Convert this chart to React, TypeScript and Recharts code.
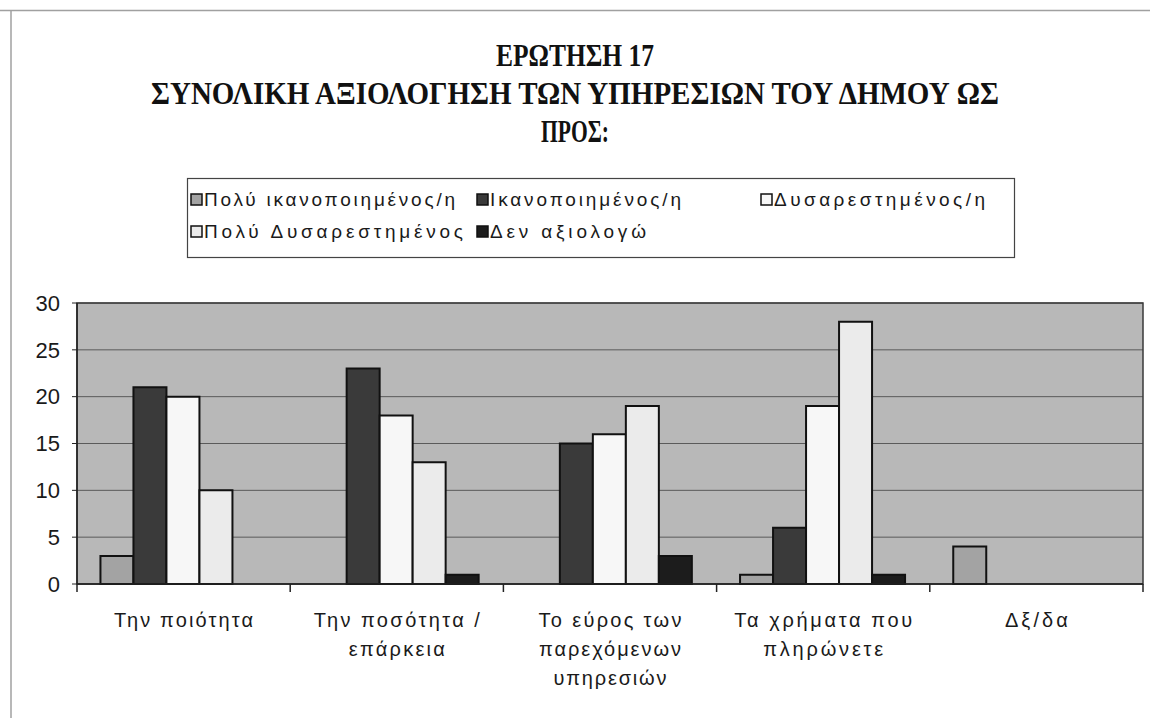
import React from 'react';
import { BarChart, Bar, XAxis, YAxis, CartesianGrid, ReferenceArea } from 'recharts';

const categories = [
  'Την ποιότητα',
  'Την ποσότητα / επάρκεια',
  'Το εύρος των παρεχόμενων υπηρεσιών',
  'Τα χρήματα που πληρώνετε',
  'Δξ/δα',
];
const categoryLines = [
  ['Την ποιότητα'],
  ['Την ποσότητα /', 'επάρκεια'],
  ['Το εύρος των', 'παρεχόμενων', 'υπηρεσιών'],
  ['Τα χρήματα που', 'πληρώνετε'],
  ['Δξ/δα'],
];
const seriesNames = [
  'Πολύ ικανοποιημένος/η',
  'Ικανοποιημένος/η',
  'Δυσαρεστημένος/η',
  'Πολύ Δυσαρεστημένος',
  'Δεν αξιολογώ',
];
const veryPleased = [3, 0, 0, 1, 4];
const pleased = [21, 23, 15, 6, 0];
const displeased = [20, 18, 16, 19, 0];
const veryDispleased = [10, 13, 19, 28, 0];
const noRating = [0, 1, 3, 1, 0];
const yTicks = [0, 5, 10, 15, 20, 25, 30];
const titleLines = [
  'ΕΡΩΤΗΣΗ 17',
  'ΣΥΝΟΛΙΚΗ ΑΞΙΟΛΟΓΗΣΗ ΤΩΝ ΥΠΗΡΕΣΙΩΝ ΤΟΥ ΔΗΜΟΥ ΩΣ',
  'ΠΡΟΣ:',
];

// styles
const seriesColors = ['#a3a3a3', '#3a3a3a', '#f7f7f7', '#ebebeb', '#1c1c1c'];
const sansFont = '"Liberation Sans", Arial, sans-serif';
const serifFont = '"Liberation Serif", "Times New Roman", serif';
const labelWidths: Record<string, number> = {
  'Την ποιότητα': 139,
  'Την ποσότητα /': 166,
  'επάρκεια': 96,
  'Το εύρος των': 143,
  'παρεχόμενων': 142,
  'υπηρεσιών': 113,
  'Τα χρήματα που': 178,
  'πληρώνετε': 120,
  'Δξ/δα': 63,
};
const legendWidths = [251, 191, 211, 259, 156];
const legendPos = [
  [191, 206],
  [477, 206],
  [761, 206],
  [191, 238],
  [477, 238],
];
const titleLayout = [
  { y: 66, w: 158 },
  { y: 104, w: 848 },
  { y: 142, w: 68 },
];

const seriesValues = [veryPleased, pleased, displeased, veryDispleased, noRating];
const seriesKeys = ['s0', 's1', 's2', 's3', 's4'];
const data = categories.map((c, i) => {
  const row: Record<string, any> = { name: c };
  seriesKeys.forEach((k, j) => {
    row[k] = seriesValues[j][i];
  });
  return row;
});

const XTick = (props: any) => {
  const { x, y, payload, index } = props;
  const half = payload && typeof payload.offset === 'number' && payload.offset > 0 ? payload.offset : 106.6;
  const lines = categoryLines[index] ?? [String(payload?.value ?? '')];
  const last = index === categories.length - 1;
  return (
    <g>
      <line x1={x - half} x2={x - half} y1={y} y2={y + 8} stroke="#222" strokeWidth={1.5} />
      {last && <line x1={x + half} x2={x + half} y1={y} y2={y + 8} stroke="#222" strokeWidth={1.5} />}
      {lines.map((ln: string, k: number) => (
        <text
          key={k}
          x={x}
          y={y + 43 + k * 29}
          textAnchor="middle"
          fontFamily={sansFont}
          fontSize={20}
          fill="#1a1a1a"
          textLength={labelWidths[ln]}
          lengthAdjust="spacing"
        >
          {ln}
        </text>
      ))}
    </g>
  );
};

export default function App() {
  return (
    <div style={{ position: 'absolute', left: 0, top: 0, width: 1150, height: 718, background: '#fff' }}>
      <BarChart
        width={1150}
        height={718}
        data={data}
        margin={{ top: 303, right: 7, bottom: 0, left: 17 }}
        barCategoryGap="11%"
        barGap={0}
      >
        <CartesianGrid vertical={false} stroke="#5a5a5a" fill="#b8b8b8" fillOpacity={1} />
        <XAxis
          dataKey="name"
          height={134}
          interval={0}
          tickLine={false}
          tickSize={0}
          tickMargin={0}
          axisLine={{ stroke: '#222', strokeWidth: 1.5 }}
          tick={<XTick />}
        />
        <YAxis
          width={60}
          domain={[0, 30]}
          ticks={yTicks}
          interval={0}
          tickSize={5}
          tickMargin={12}
          axisLine={{ stroke: '#222', strokeWidth: 1.5 }}
          tickLine={{ stroke: '#222' }}
          tick={{ fontSize: 22, fontFamily: sansFont, fill: '#1a1a1a' }}
        />
        <ReferenceArea y1={0} y2={30} fill="none" fillOpacity={0} stroke="#3a3a3a" strokeWidth={1.5} ifOverflow="visible" />
        {seriesKeys.map((k, j) => (
          <Bar
            key={k}
            dataKey={k}
            name={seriesNames[j]}
            fill={seriesColors[j]}
            stroke="#111"
            strokeWidth={2}
            isAnimationActive={false}
          />
        ))}
      </BarChart>
      <svg
        width={1150}
        height={718}
        style={{ position: 'absolute', left: 0, top: 0, pointerEvents: 'none' }}
      >
        <line x1={0} x2={1150} y1={10.5} y2={10.5} stroke="#a0a0a0" strokeWidth={1.5} />
        <line x1={11} x2={11} y1={10} y2={718} stroke="#a0a0a0" strokeWidth={1.5} />
        {titleLines.map((t, i) => (
          <text
            key={i}
            x={575}
            y={titleLayout[i].y}
            textAnchor="middle"
            fontFamily={serifFont}
            fontWeight="bold"
            fontSize={31}
            fill="#111"
            textLength={titleLayout[i].w}
            lengthAdjust="spacingAndGlyphs"
          >
            {t}
          </text>
        ))}
        <rect x={187.5} y={178.5} width={827} height={79} fill="#fff" stroke="#444" strokeWidth={1.2} />
        {seriesNames.map((n, j) => (
          <g key={n}>
            <rect
              x={legendPos[j][0]}
              y={legendPos[j][1] - 12}
              width={11}
              height={11}
              fill={seriesColors[j]}
              stroke="#111"
              strokeWidth={1.5}
            />
            <text
              x={legendPos[j][0] + 13}
              y={legendPos[j][1]}
              fontFamily={sansFont}
              fontSize={19}
              fill="#1a1a1a"
              textLength={legendWidths[j]}
              lengthAdjust="spacing"
            >
              {n}
            </text>
          </g>
        ))}
      </svg>
    </div>
  );
}
